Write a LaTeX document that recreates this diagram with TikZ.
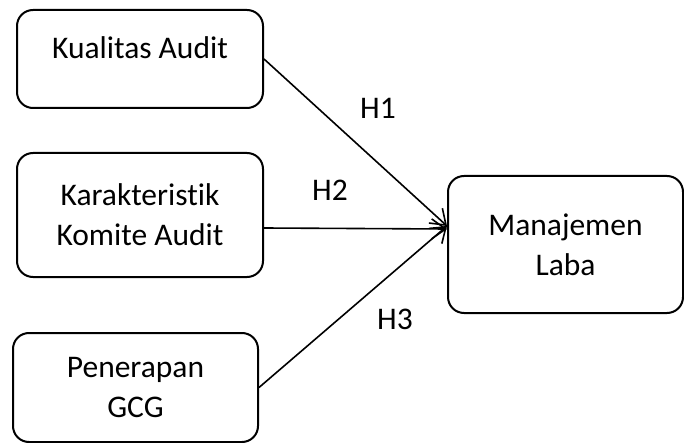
\documentclass[tikz,border=0pt]{standalone}
\usepackage{fontspec}
\setmainfont{Carlito}[Ligatures=NoCommon]
\usetikzlibrary{arrows.meta}

\begin{document}
\begin{tikzpicture}[x=1pt,y=-1pt,font=\fontsize{31.5}{40}\selectfont,
  box/.style={draw,line width=2pt,rounded corners=16pt,align=center,inner sep=0pt},
  link/.style={line width=1.6pt,-{Straight Barb[length=14pt,width=20pt,line width=1.6pt]}}]
\useasboundingbox(0,0)rectangle(684,443);
\node[box,minimum width=246pt,minimum height=98pt,label={[yshift=11pt]center:Kualitas Audit}](qa)at(140,59){};
\node[box,minimum width=246pt,minimum height=124pt](kka)at(140,215){Karakteristik\\Komite Audit};
\node[box,minimum width=245pt,minimum height=109pt](gcg)at(135.5,387.5){Penerapan\\GCG};
\node[box,minimum width=235pt,minimum height=137pt](ml)at(565.5,244.5){Manajemen\\Laba};
\coordinate(in)at(447,226);
\draw[link](qa.east)--(in);
\draw[link]([yshift=-13pt]kka.east)--(447,229);
\draw[link](gcg.east)--(in);
\node(h1)at(378,108){H1};\node(h2)at(330,190){H2};\node(h3)at(395,319){H3};
\end{tikzpicture}
\end{document}
